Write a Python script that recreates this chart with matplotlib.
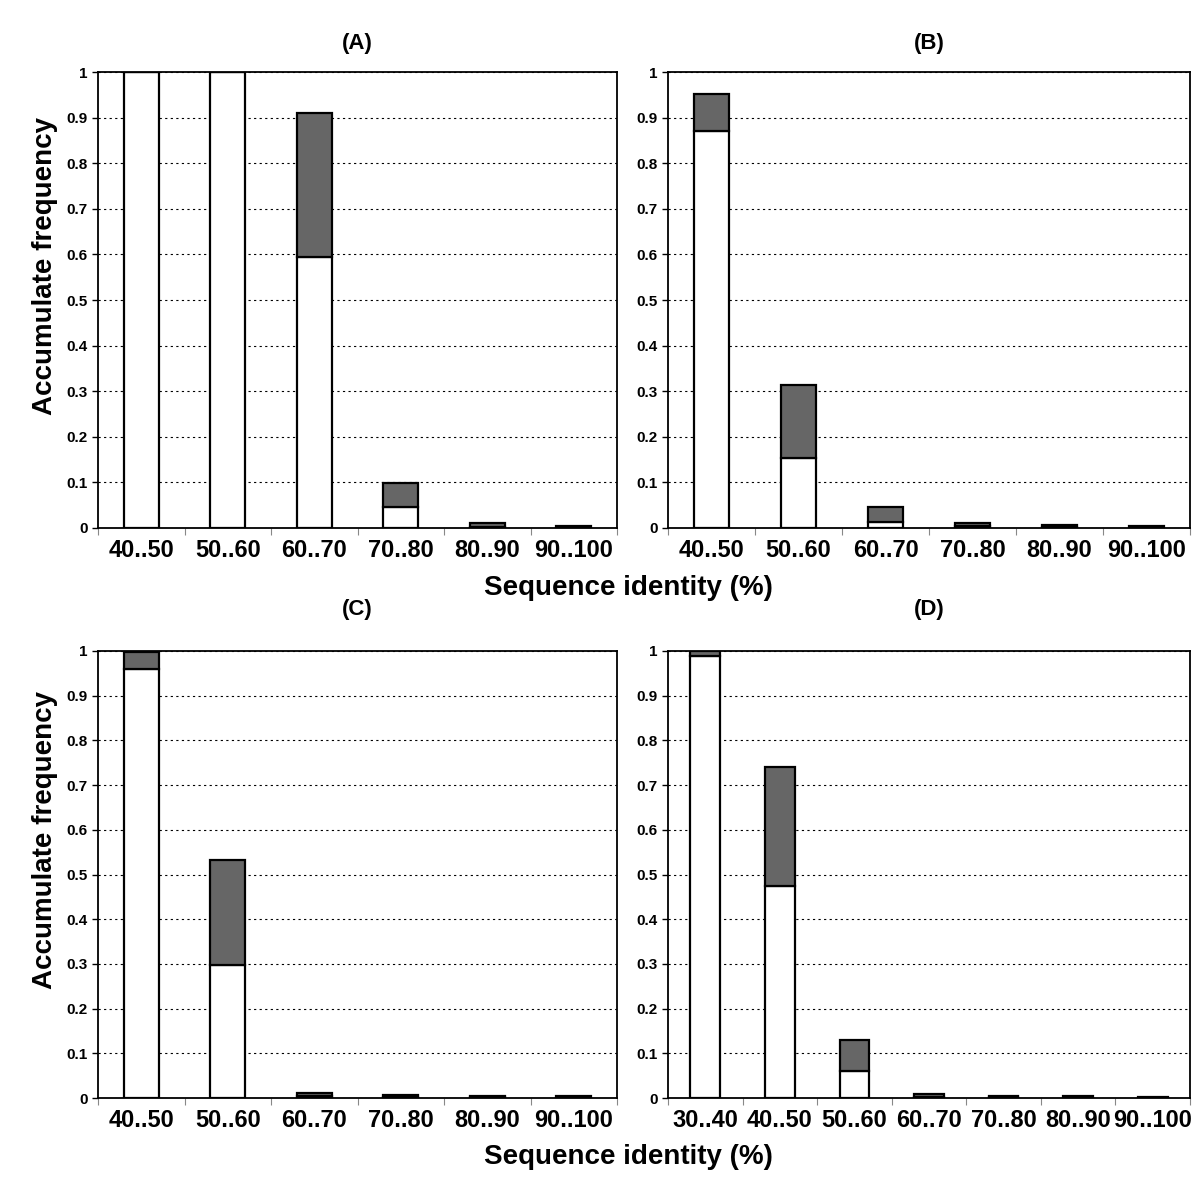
import matplotlib
matplotlib.use("Agg")
import matplotlib.pyplot as plt
import numpy as np

plt.rcParams["font.family"] = ["Liberation Sans", "DejaVu Sans"]
plt.rcParams["font.weight"] = "bold"

cats_abc = ["40..50", "50..60", "60..70", "70..80", "80..90", "90..100"]
cats_d = ["30..40", "40..50", "50..60", "60..70", "70..80", "80..90", "90..100"]

# lower (white) part and accumulated total (top of gray part)
a_low = [1.0, 1.0, 0.595, 0.046, 0.003, 0.001]
a_tot = [1.0, 1.0, 0.91, 0.099, 0.012, 0.005]
b_low = [0.87, 0.153, 0.013, 0.004, 0.002, 0.001]
b_tot = [0.951, 0.313, 0.045, 0.01, 0.007, 0.004]
c_low = [0.96, 0.297, 0.005, 0.002, 0.002, 0.001]
c_tot = [0.997, 0.533, 0.012, 0.007, 0.005, 0.004]
d_low = [0.988, 0.474, 0.06, 0.003, 0.002, 0.001, 0.001]
d_tot = [1.0, 0.74, 0.13, 0.008, 0.005, 0.004, 0.003]

panels = [
    ("(A)", cats_abc, a_low, a_tot, [98 / 1200, 1 - 528 / 1200, 519 / 1200, 456 / 1200], 44),
    ("(B)", cats_abc, b_low, b_tot, [668 / 1200, 1 - 528 / 1200, 522 / 1200, 456 / 1200], 44),
    ("(C)", cats_abc, c_low, c_tot, [98 / 1200, 1 - 1098 / 1200, 519 / 1200, 447 / 1200], 610),
    ("(D)", cats_d, d_low, d_tot, [668 / 1200, 1 - 1098 / 1200, 522 / 1200, 447 / 1200], 610),
]

fig = plt.figure(figsize=(12, 12), dpi=100)

for title, cats, low, tot, pos, ty in panels:
    ax = fig.add_axes(pos)
    x = np.arange(len(cats))
    low = np.array(low)
    tot = np.array(tot)
    ax.bar(x, low, width=0.4, color="white", edgecolor="black", linewidth=1.6, zorder=3)
    ax.bar(x, tot - low, bottom=low, width=0.4, color="#666666", edgecolor="black",
           linewidth=1.6, zorder=3)
    ax.set_xlim(-0.5, len(cats) - 0.5)
    ax.set_ylim(0, 1)
    yt = np.round(np.arange(0, 1.01, 0.1), 1)
    ax.set_yticks(yt)
    ax.set_yticklabels(["0" if v == 0 else ("1" if v == 1 else f"{v:.1f}") for v in yt],
                       fontsize=11, fontweight="bold")
    ax.yaxis.grid(True, linestyle=(0, (2, 3)), color="black", linewidth=0.8)
    ax.set_axisbelow(True)
    ax.set_xticks(x)
    ax.set_xticklabels(cats, fontsize=17, fontweight="bold")
    ax.set_xticks(np.arange(-0.5, len(cats)), minor=True)
    ax.tick_params(axis="x", which="major", length=0, pad=8)
    ax.tick_params(axis="x", which="minor", length=5, width=0.8, color="#888888")
    ax.tick_params(axis="y", length=4, width=1)
    for s in ax.spines.values():
        s.set_linewidth(1.3)
    xc = pos[0] + pos[2] / 2
    fig.text(xc, 1 - ty / 1200, title, ha="center", va="center",
             fontsize=16, fontweight="bold")

for yc in (266, 840):
    fig.text(45 / 1200, 1 - yc / 1200, "Accumulate frequency", ha="center", va="center",
             rotation=90, fontsize=20, fontweight="bold")
for yc in (588, 1157):
    fig.text(628 / 1200, 1 - yc / 1200, "Sequence identity (%)", ha="center", va="center",
             fontsize=20, fontweight="bold")

fig.savefig("out.png", dpi=100)
